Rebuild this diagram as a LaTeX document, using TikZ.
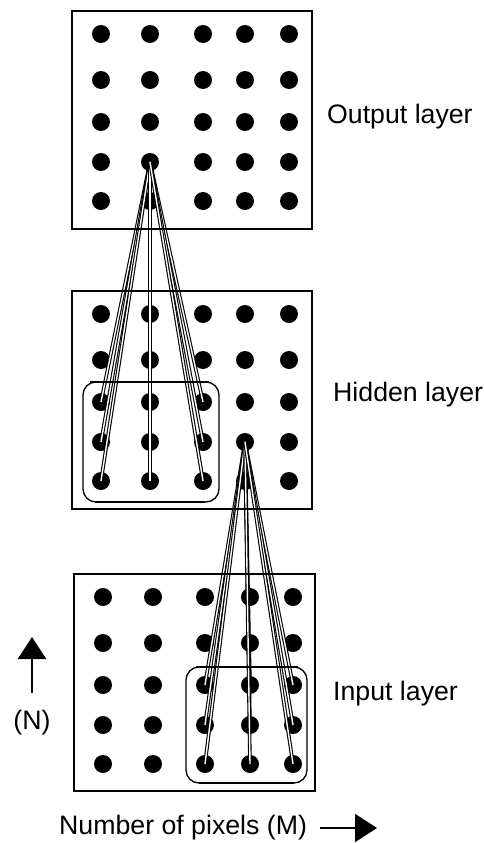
\documentclass[tikz,border=0pt]{standalone}
\usepackage{fontspec}
\setmainfont{Liberation Sans}
\usetikzlibrary{arrows.meta}
\begin{document}
\begin{tikzpicture}[x=1pt,y=-1pt,
  neuron/.style={circle,fill=black,inner sep=0pt,minimum size=18pt},
  layerbox/.style={draw,line width=2.5pt},
  link/.style={draw=black,line width=1.1pt,double=white,double distance=1.4pt},
  field/.style={draw,line width=1.3pt,rounded corners=13pt},
  fieldedge/.style={draw,line width=2.6pt},
  lbl/.style={font=\fontsize{26.7}{32}\selectfont,inner sep=0pt,anchor=base west},
  axis/.style={line width=2pt,-{Triangle[width=28pt,length=22pt]}}]
\useasboundingbox (0,0) rectangle (484,843);

% neurons of the three layers (row r, column c)
\foreach \r/\dy in {1/23,2/69,3/111,4/151,5/190}{
  \foreach \c/\x in {1/101,2/150,3/203,4/245,5/289}{
    \node[neuron] (o-\r-\c) at (\x,11+\dy) {};
    \node[neuron] (h-\r-\c) at (\x,291+\dy) {};
  }
  \foreach \c/\x in {1/103,2/153,3/205,4/250,5/293}{
    \node[neuron] (i-\r-\c) at (\x,574+\dy) {};
  }
}

% receptive-field connections
\foreach \r in {3,4,5}{
  \foreach \c in {1,2,3}{
    \draw[link] (o-4-2.center) -- (h-\r-\c.center);
  }
  \foreach \c in {3,4,5}{
    \draw[link] (h-4-4.center) -- (i-\r-\c.center);
  }
}

% layer frames
\draw[layerbox] (72,11) rectangle (312,229);
\draw[layerbox] (72,291) rectangle (312,509);
\draw[layerbox] (74,574) rectangle (315,791);

% receptive fields
\draw[field] (83,382) rectangle (219,502);
\draw[fieldedge] (90,382) -- (209,382);
\draw[fieldedge,line width=2pt] (95,502) -- (205,502);
\draw[field] (186,667) rectangle (307,783);
\draw[fieldedge] (196,667) -- (298,667);
\draw[fieldedge,line width=2pt] (199,783) -- (294,783);

% labels
\node[lbl] (lout) at (327,123) {Output layer};
\node[lbl] (lhid) at (333,401) {Hidden layer};
\node[lbl] (linp) at (333,700) {Input layer};
\node[lbl,anchor=base] (ln) at (32,729) {(N)};
\node[lbl] (lm) at (59,834) {Number of pixels (M)};

% axis arrows
\coordinate (ntail) at (32,693);
\coordinate (nhead) at (32,637);
\draw[axis] (ntail) -- (nhead);
\coordinate (mtail) at (320,828);
\coordinate (mhead) at (377,828);
\draw[axis] (mtail) -- (mhead);
\end{tikzpicture}
\end{document}
